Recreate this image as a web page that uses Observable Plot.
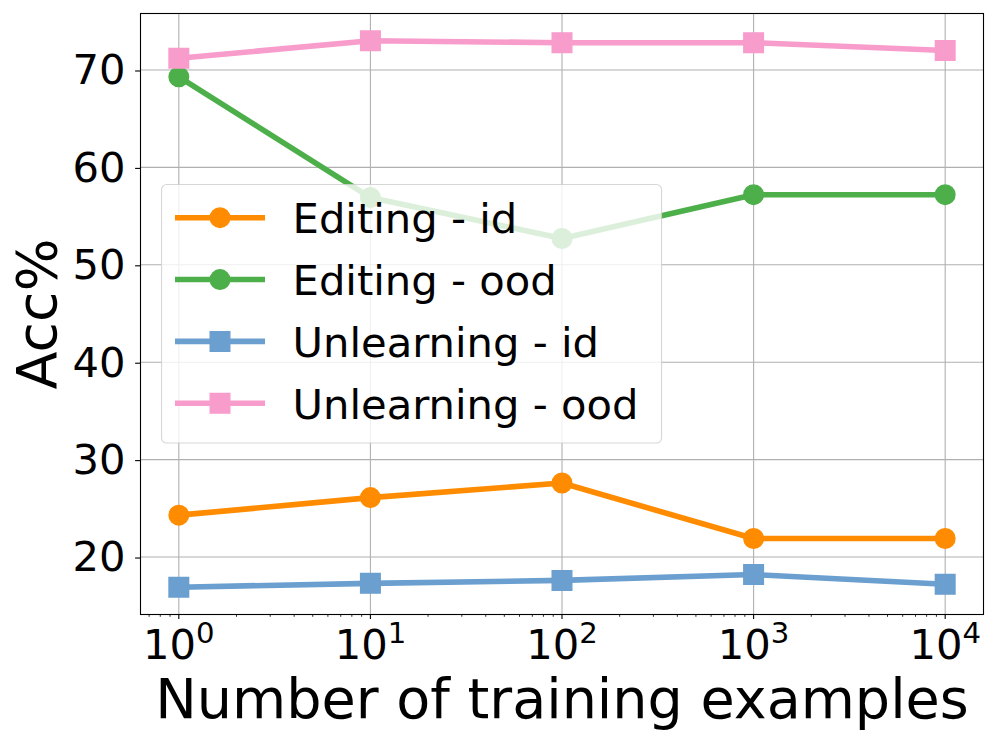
<!DOCTYPE html>
<html>
<head>
<meta charset="utf-8">
<script src="https://cdn.jsdelivr.net/npm/d3@7"></script>
<script src="https://cdn.jsdelivr.net/npm/@observablehq/plot@0.6"></script>
<style>
  html, body { margin: 0; padding: 0; background: #ffffff; }
  #wrap { position: relative; width: 996px; height: 742px; font-family: "DejaVu Sans", sans-serif; }
  #legend { position: absolute; left: 161px; top: 184px; }
</style>
</head>
<body>
<div id="wrap"></div>
<script>
// ---- data ----
const trainingExamples = [1, 10, 100, 1000, 10000];
const seriesNames = ["Editing - id", "Editing - ood", "Unlearning - id", "Unlearning - ood"];
const editingId = [24.3, 26.1, 27.6, 21.9, 21.9];
const editingOod = [69.3, 56.9, 52.7, 57.2, 57.2];
const unlearningId = [16.9, 17.3, 17.6, 18.2, 17.2];
const unlearningOod = [71.2, 73.0, 72.8, 72.8, 72.0];
const seriesColors = ["#ff8c00", "#4daf4a", "#6a9fcf", "#f89ccc"];
const seriesSymbols = ["circle", "circle", "square", "square"];
const xTicks = [1, 10, 100, 1000, 10000];
const xTickExponents = ["0", "1", "2", "3", "4"];
const xMinorTicks = [0.7, 0.8, 0.9, 2, 3, 4, 5, 6, 7, 8, 9, 20, 30, 40, 50, 60, 70, 80, 90,
  200, 300, 400, 500, 600, 700, 800, 900, 2000, 3000, 4000, 5000, 6000, 7000, 8000, 9000];
const yTicks = [20, 30, 40, 50, 60, 70];
const xLabel = "Number of training examples";
const yLabel = "Acc%";

const seriesValues = [editingId, editingOod, unlearningId, unlearningOod];
const rows = seriesNames.flatMap((name, i) =>
  trainingExamples.map((x, j) => ({series: name, x, y: seriesValues[i][j]})));

const FONT = 41.67;
const SUP = "⁰¹²³⁴";
const gridStyle = {stroke: "#b0b0b0", strokeOpacity: 1, strokeWidth: 1.1};
const symbolR = {circle: 9.8, square: 11.06};

const seriesMarks = seriesNames.flatMap((name, i) => {
  const d = rows.filter(r => r.series === name);
  return [
    Plot.line(d, {x: "x", y: "y", stroke: seriesColors[i], strokeWidth: 5.6}),
    Plot.dot(d, {x: "x", y: "y", symbol: seriesSymbols[i], r: symbolR[seriesSymbols[i]],
      fill: seriesColors[i], stroke: seriesColors[i], strokeWidth: 1.4})
  ];
});

function expOf(d) {
  return Math.round(Math.log10(d));
}

const chart = Plot.plot({
  width: 996,
  height: 742,
  marginLeft: 140,
  marginRight: 13,
  marginTop: 13,
  marginBottom: 128,
  style: {fontFamily: "DejaVu Sans", fontSize: FONT + "px", color: "black", background: "white"},
  x: {type: "log", domain: [Math.pow(10, -0.2), Math.pow(10, 4.2)]},
  y: {domain: [14.1, 75.8]},
  marks: [
    Plot.gridX(xTicks, gridStyle),
    Plot.gridY(yTicks, gridStyle),
    ...seriesMarks,
    Plot.frame({stroke: "black", strokeWidth: 1.1}),
    Plot.axisX(xMinorTicks, {tickSize: 2.8, strokeWidth: 0.83, tickFormat: () => "", label: null}),
    Plot.axisX(xTicks, {tickSize: 4.9, strokeWidth: 1.1, tickPadding: 9.8, fontSize: FONT,
      tickFormat: (d) => "10" + SUP[expOf(d)], label: null}),
    Plot.axisY(yTicks, {tickSize: 4.9, strokeWidth: 1.1, tickPadding: 10, fontSize: FONT, dy: 1, label: null}),
    Plot.text([xLabel], {text: d => d, frameAnchor: "bottom", dy: 103.7, fontSize: 55.6,
      textAnchor: "middle", lineAnchor: "bottom", fill: "black"}),
    Plot.text([yLabel], {text: d => d, frameAnchor: "left", dx: -85, rotate: -90, fontSize: 55.6,
      textAnchor: "middle", lineAnchor: "bottom", fill: "black"})
  ]
});

// Render superscripts as mathtext-like tspans
d3.select(chart).selectAll("text").each(function() {
  const t = this.textContent;
  if (!t || t.length !== 3 || !t.startsWith("10")) return;
  const k = SUP.indexOf(t[2]);
  if (k < 0) return;
  const sel = d3.select(this);
  sel.text(null);
  sel.append("tspan").text("10");
  sel.append("tspan").attr("font-size", (FONT * 0.7).toFixed(2)).attr("dy", -15.6).text(xTickExponents[k]);
});

const wrap = document.getElementById("wrap");
wrap.appendChild(chart);

// ---- legend (overlay, semi-transparent like matplotlib) ----
const L = d3.select(wrap).append("svg").attr("id", "legend")
  .attr("width", 502).attr("height", 261)
  .style("font-family", "DejaVu Sans");
L.append("rect").attr("x", 0.55).attr("y", 0.55).attr("width", 500).attr("height", 258.5)
  .attr("rx", 5).attr("fill", "white").attr("fill-opacity", 0.8)
  .attr("stroke", "#cccccc").attr("stroke-opacity", 0.8).attr("stroke-width", 1.1);
seriesNames.forEach((name, i) => {
  const cy = 33.7 + 61.85 * i;
  const g = L.append("g");
  g.append("line").attr("x1", 14).attr("x2", 104).attr("y1", cy).attr("y2", cy)
    .attr("stroke", seriesColors[i]).attr("stroke-width", 5.6);
  const sym = seriesSymbols[i] === "circle" ? d3.symbolCircle : d3.symbolSquare;
  const r = symbolR[seriesSymbols[i]];
  g.append("path").attr("d", d3.symbol(sym, r * r * Math.PI)())
    .attr("transform", `translate(59,${cy})`)
    .attr("fill", seriesColors[i]).attr("stroke", seriesColors[i]).attr("stroke-width", 1.4);
  g.append("text").attr("x", 131.6).attr("y", cy + 15.6).attr("font-size", FONT)
    .attr("fill", "black").text(name);
});
</script>
</body>
</html>
